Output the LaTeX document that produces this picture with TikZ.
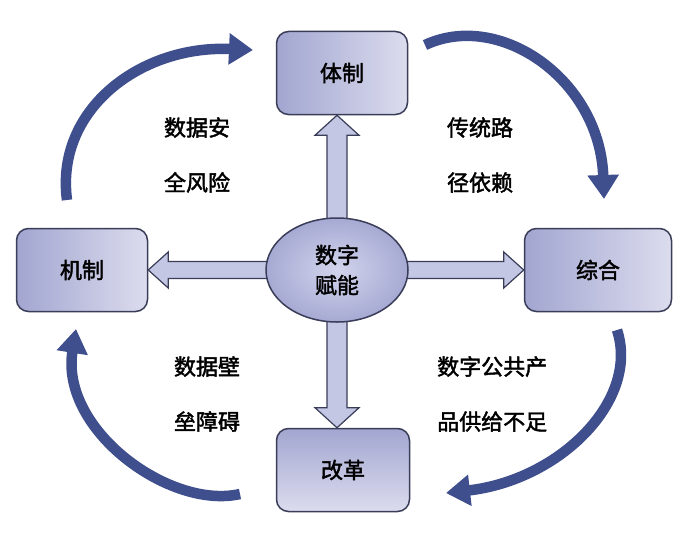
\documentclass[tikz,border=0pt]{standalone}
\usepackage{fontspec}
\newfontfamily\cjk[AutoFakeBold=2]{Noto Sans CJK SC}
\usetikzlibrary{shapes.geometric,arrows.meta,calc,backgrounds}
\definecolor{boxL}{HTML}{A2A6D0}
\definecolor{boxR}{HTML}{DCDCEE}
\definecolor{edge}{HTML}{3A3D58}
\definecolor{navy}{HTML}{3F4E8C}
\definecolor{arrfill}{HTML}{C4C7E4}
\definecolor{ellIn}{HTML}{D2D4EC}
\definecolor{ellOut}{HTML}{A6AAD3}
\tikzset{
  stagebox/.style={draw=edge, line width=1.5pt, rounded corners=12pt,
    left color=boxL, right color=boxR, minimum width=131pt, minimum height=83pt,
    inner sep=0pt, font=\cjk\bfseries\fontsize{22}{26}\selectfont},
  core/.style={ellipse, draw=edge, line width=1.5pt, inner color=ellIn, outer color=ellOut,
    minimum width=142pt, minimum height=104pt, inner sep=0pt, align=center,
    font=\cjk\bfseries\fontsize{22}{30}\selectfont},
  fat/.style={draw=edge, line width=1.2pt, fill=arrfill, line join=miter},
  curv/.style={draw=navy, line width=10.5pt,
    -{Triangle[length=24pt,width=30pt]}},
  lbl/.style={font=\cjk\bfseries\fontsize{22}{55}\selectfont, align=left, inner sep=0pt}
}
\begin{document}
\begin{tikzpicture}[x=1pt,y=-1pt]
\useasboundingbox (0,0) rectangle (700,535);
% nodes
\node[core] (c) at (337,270) {数字\\赋能};
\node[stagebox] (ti) at (342,73) {体制};
\node[stagebox, minimum width=147pt] (zh) at (598,270) {综合};
\node[stagebox] (jz) at (82,270) {机制};
\node[stagebox, minimum width=133pt, top color=boxL, bottom color=boxR] (gg) at (343,470) {改革};
% straight arrows behind
\begin{scope}[on background layer]
\fill[white] (0,0) rectangle (700,535);
\draw[fat] ($(c.center)+(-10,0)$) -- ($(c.center |- ti.south)+(-10,20)$)
  -- ($(c.center |- ti.south)+(-22,20)$) -- (c.center |- ti.south)
  -- ($(c.center |- ti.south)+(22,20)$) -- ($(c.center |- ti.south)+(10,20)$)
  -- ($(c.center)+(10,0)$) -- cycle;
\draw[fat] ($(c.center)+(-10,0)$) -- ($(c.center |- gg.north)+(-10,-20)$)
  -- ($(c.center |- gg.north)+(-22,-20)$) -- (c.center |- gg.north)
  -- ($(c.center |- gg.north)+(22,-20)$) -- ($(c.center |- gg.north)+(10,-20)$)
  -- ($(c.center)+(10,0)$) -- cycle;
\draw[fat] ($(c.center)+(0,-8.5)$) -- ($(c.center -| jz.east)+(20,-8.5)$)
  -- ($(c.center -| jz.east)+(20,-18)$) -- (c.center -| jz.east)
  -- ($(c.center -| jz.east)+(20,18)$) -- ($(c.center -| jz.east)+(20,8.5)$)
  -- ($(c.center)+(0,8.5)$) -- cycle;
\draw[fat] ($(c.center)+(0,-8.5)$) -- ($(c.center -| zh.west)+(-20,-8.5)$)
  -- ($(c.center -| zh.west)+(-20,-18)$) -- (c.center -| zh.west)
  -- ($(c.center -| zh.west)+(-20,18)$) -- ($(c.center -| zh.west)+(-20,8.5)$)
  -- ($(c.center)+(0,8.5)$) -- cycle;
\end{scope}
% curved arrows
\coordinate (tlA) at (67,200);  \coordinate (tlB) at (253,50);
\coordinate (trA) at (425,45);  \coordinate (trB) at (604,199);
\coordinate (brA) at (617,330); \coordinate (brB) at (446,493);
\coordinate (blA) at (240,494); \coordinate (blB) at (76,329);
\draw[curv] (tlA) .. controls (55,110) and (140,45) .. (tlB);
\draw[curv] (trA) .. controls (500,10) and (600,80) .. (trB);
\draw[curv] (brA) .. controls (640,400) and (560,480) .. (brB);
\draw[curv] (blA) .. controls (170,510) and (60,430) .. (blB);
% labels
\node[lbl] (l1) at (197,155) {数据安\\全风险};
\node[lbl] (l2) at (480,155) {传统路\\径依赖};
\node[lbl, anchor=west] (l3) at (437,394) {数字公共产\\品供给不足};
\node[lbl] (l4) at (207,394) {数据壁\\垒障碍};
\end{tikzpicture}
\end{document}
